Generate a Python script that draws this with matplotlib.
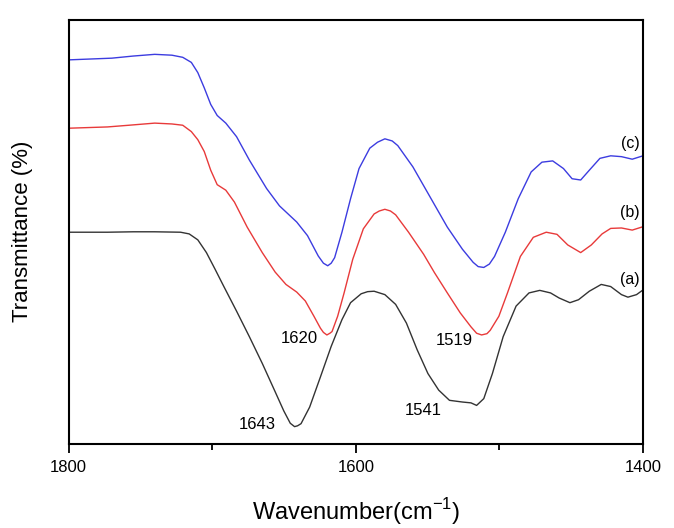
import matplotlib
matplotlib.use("Agg")
import matplotlib.pyplot as plt

plt.rcParams["font.family"] = ["Liberation Sans", "DejaVu Sans"]
plt.rcParams["mathtext.fontset"] = "custom"
plt.rcParams["mathtext.rm"] = "Liberation Sans"

# (a) black
wn_a = [1800, 1773.0, 1755.1, 1740.1, 1722.1, 1716.1, 1710.1, 1704.1, 1698.1, 1692.1,
        1683.1, 1674.2, 1665.2, 1656.2, 1650.2, 1645.7, 1642.7, 1640.6, 1638.2, 1632.2,
        1624.7, 1617.2, 1609.7, 1603.7, 1596.3, 1591.8, 1587.3, 1579.8, 1572.3, 1564.8,
        1557.3, 1549.8, 1542.3, 1534.8, 1525.8, 1519.8, 1515.9, 1510.9, 1504.9, 1497.4,
        1488.4, 1479.4, 1471.9, 1464.4, 1458.4, 1450.9, 1444.9, 1437.4, 1429.1, 1422.5,
        1415.0, 1410.5, 1404.5, 1400.0]
t_a = [49.9, 49.9, 50.0, 50.0, 49.9, 49.5, 48.1, 45.1, 41.2, 37.2,
       31.3, 25.3, 19.0, 12.3, 7.8, 4.9, 4.1, 4.3, 4.8, 8.7,
       15.8, 23.0, 29.3, 33.3, 35.4, 35.9, 36.0, 35.2, 32.9, 28.5,
       22.2, 16.6, 12.7, 10.3, 9.9, 9.7, 9.1, 10.7, 16.6, 25.3,
       32.5, 35.6, 36.2, 35.6, 34.4, 33.3, 34.0, 36.0, 37.6, 37.1,
       35.2, 34.6, 35.2, 36.3]

# (b) red
wn_b = [1800, 1773.0, 1758.1, 1740.1, 1728.1, 1720.6, 1714.6, 1710.1, 1705.6, 1701.1,
        1696.6, 1690.6, 1684.6, 1675.7, 1665.2, 1656.2, 1648.7, 1641.2, 1635.2, 1629.2,
        1624.7, 1622.6, 1620.2, 1618.1, 1616.6, 1612.7, 1608.2, 1602.2, 1594.8, 1587.3,
        1583.7, 1579.8, 1575.9, 1572.3, 1563.3, 1552.8, 1545.3, 1536.3, 1527.3, 1519.8,
        1515.9, 1512.4, 1508.7, 1506.4, 1500.4, 1494.4, 1485.4, 1476.4, 1467.4, 1459.9,
        1452.4, 1443.4, 1436.0, 1428.5, 1422.5, 1415.0, 1407.5, 1400.0]
t_b = [74.4, 74.7, 75.1, 75.6, 75.4, 75.1, 73.6, 71.7, 68.9, 64.5,
       61.1, 59.8, 57.0, 51.1, 45.1, 40.5, 37.6, 35.8, 33.7, 30.1,
       27.3, 26.3, 25.7, 26.1, 26.5, 30.1, 35.6, 43.5, 50.7, 54.2,
       54.9, 55.3, 54.9, 54.0, 49.9, 44.7, 40.4, 35.6, 30.9, 27.6,
       26.1, 25.7, 26.0, 26.8, 30.1, 35.6, 44.2, 48.7, 49.9, 49.4,
       46.9, 45.1, 46.9, 49.5, 50.8, 50.9, 50.4, 51.2]

# (c) blue
wn_c = [1800, 1770.0, 1755.1, 1740.1, 1728.1, 1720.6, 1714.6, 1710.1, 1705.6, 1701.1,
        1696.6, 1690.6, 1683.1, 1674.2, 1662.2, 1653.2, 1641.2, 1633.7, 1626.2, 1622.6,
        1619.6, 1617.2, 1614.8, 1609.7, 1603.7, 1597.8, 1590.3, 1584.9, 1579.8, 1574.7,
        1570.8, 1560.3, 1548.3, 1536.3, 1525.8, 1518.3, 1514.8, 1510.9, 1507.0, 1503.4,
        1495.9, 1486.9, 1477.9, 1470.4, 1462.9, 1455.4, 1449.4, 1443.4, 1437.4, 1430.0,
        1422.5, 1415.0, 1407.5, 1400.0]
t_c = [90.5, 90.9, 91.4, 91.8, 91.6, 91.1, 89.9, 87.5, 83.9, 80.0,
       77.4, 75.6, 72.4, 66.9, 60.2, 56.1, 52.3, 49.1, 44.3, 42.6,
       42.0, 42.6, 43.9, 49.9, 57.8, 64.9, 69.7, 71.1, 71.9, 71.4,
       70.3, 65.3, 58.2, 51.1, 45.9, 42.8, 41.8, 41.6, 42.4, 44.2,
       49.9, 57.8, 64.1, 66.4, 66.7, 64.9, 62.5, 62.2, 64.5, 67.3,
       67.9, 67.7, 67.1, 67.9]

curve_labels = ["(a)", "(b)", "(c)"]
curve_label_y = [38.8, 54.5, 70.9]
peak_labels = ["1643", "1620", "1541", "1519"]
peak_label_x = [1668.8, 1639.7, 1553.4, 1531.2]
peak_label_y = [4.6, 24.9, 7.9, 24.3]

fig = plt.figure(figsize=(6.74, 5.28), dpi=100)
ax = fig.add_axes([0.102, 0.159, 0.852, 0.804])

ax.plot(wn_a, t_a, color="#333333", lw=1.0)
ax.plot(wn_b, t_b, color="#e83a3a", lw=1.0)
ax.plot(wn_c, t_c, color="#3c3ce0", lw=1.0)

for lab, y in zip(curve_labels, curve_label_y):
    ax.text(1409, y, lab, ha="center", va="center", fontsize=11.5)
for lab, x, y in zip(peak_labels, peak_label_x, peak_label_y):
    ax.text(x, y, lab, ha="center", va="center", fontsize=12)

ax.set_xlim(1800, 1400)
ax.set_ylim(0, 100)
ax.set_xticks([1800, 1600, 1400])
ax.set_xticks([1700, 1500], minor=True)
ax.set_yticks([])
ax.tick_params(axis="x", which="major", direction="out", length=6.5, width=1.3,
               labelsize=12, pad=5)
ax.tick_params(axis="x", which="minor", direction="out", length=4, width=1.3)
for sp in ax.spines.values():
    sp.set_linewidth(1.5)

ax.set_xlabel("Wavenumber(cm$^{-1}$)", fontsize=17, labelpad=15)
ax.set_ylabel("Transmittance (%)", fontsize=16, labelpad=26)

fig.savefig("out.png", dpi=100)
